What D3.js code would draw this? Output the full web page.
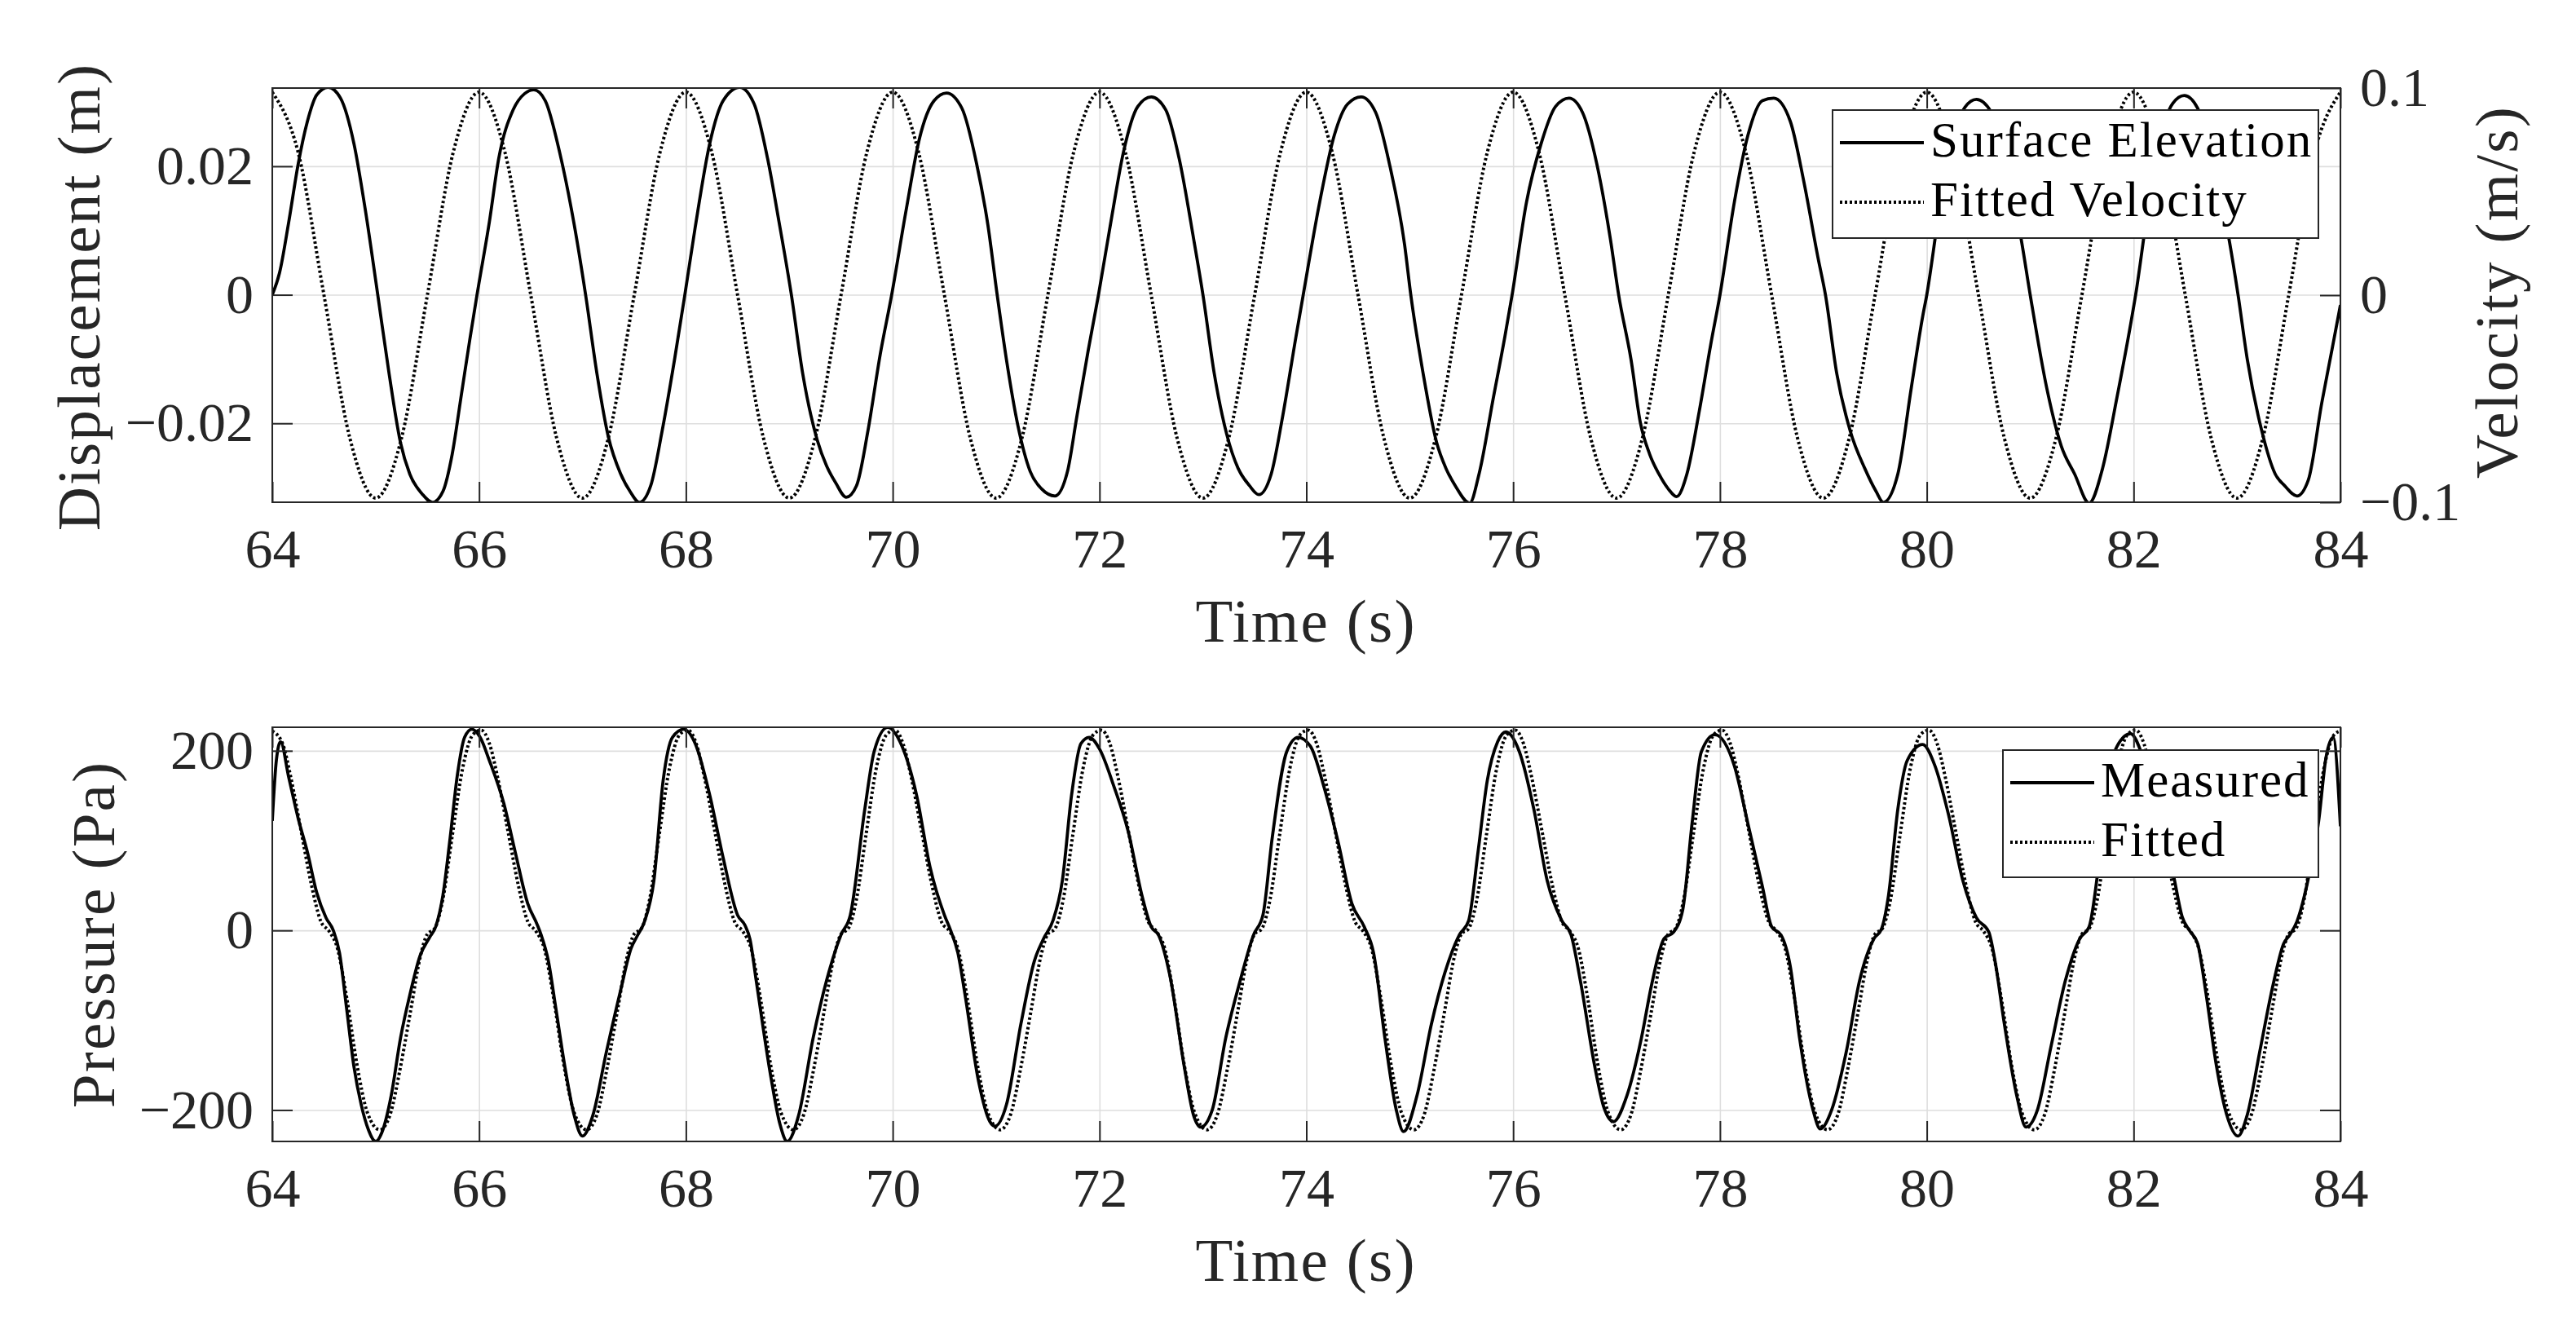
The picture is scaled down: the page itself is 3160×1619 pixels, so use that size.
<!DOCTYPE html>
<html>
<head>
<meta charset="utf-8">
<script src="https://cdn.jsdelivr.net/npm/d3@7"></script>
<style>
  body { margin: 0; background: #fff; }
</style>
</head>
<body>
<svg id="chart" width="3160" height="1619"></svg>
<script>
// tick values
const timeTicks = [64, 66, 68, 70, 72, 74, 76, 78, 80, 82, 84];
const dispTicks = [-0.02, 0, 0.02];
const velTicks = [-0.1, 0, 0.1];
const pressTicks = [-200, 0, 200];

// surface elevation (m), [time s, value]
const elevation = [
  [64.00,0.0000],[64.07,0.0034],[64.16,0.0114],[64.25,0.0203],[64.34,0.0270],[64.43,0.0311],[64.54,0.0323],
  [64.66,0.0306],[64.79,0.0235],[64.90,0.0132],[65.02,0.0000],[65.13,-0.0123],[65.24,-0.0230],[65.33,-0.0279],
  [65.45,-0.0310],[65.55,-0.0323],[65.65,-0.0306],[65.74,-0.0248],[65.83,-0.0154],[65.91,-0.0070],[65.98,0.0000],
  [66.10,0.0114],[66.19,0.0212],[66.33,0.0288],[66.44,0.0313],[66.53,0.0319],[66.64,0.0302],[66.78,0.0221],
  [66.92,0.0109],[67.03,0.0000],[67.14,-0.0123],[67.25,-0.0221],[67.37,-0.0279],[67.46,-0.0306],[67.55,-0.0323],
  [67.66,-0.0297],[67.77,-0.0212],[67.89,-0.0101],[67.99,0.0000],[68.09,0.0105],[68.23,0.0235],[68.36,0.0302],
  [68.52,0.0323],[68.66,0.0297],[68.79,0.0212],[68.90,0.0114],[69.02,0.0000],[69.13,-0.0123],[69.27,-0.0226],
  [69.36,-0.0266],[69.45,-0.0293],[69.55,-0.0315],[69.65,-0.0297],[69.76,-0.0212],[69.88,-0.0092],[69.99,0.0000],
  [70.13,0.0132],[70.26,0.0244],[70.40,0.0302],[70.52,0.0314],[70.67,0.0290],[70.81,0.0205],[70.92,0.0109],
  [71.01,0.0000],[71.10,-0.0101],[71.21,-0.0203],[71.33,-0.0275],[71.44,-0.0302],[71.57,-0.0313],[71.69,-0.0275],
  [71.78,-0.0190],[71.89,-0.0087],[71.99,0.0000],[72.12,0.0123],[72.23,0.0221],[72.37,0.0293],[72.50,0.0308],
  [72.64,0.0288],[72.77,0.0212],[72.91,0.0087],[73.00,0.0000],[73.11,-0.0123],[73.23,-0.0217],[73.34,-0.0270],
  [73.45,-0.0297],[73.54,-0.0311],[73.66,-0.0279],[73.77,-0.0190],[73.90,-0.0065],[73.97,0.0000],[74.13,0.0145],
  [74.27,0.0248],[74.40,0.0297],[74.53,0.0308],[74.67,0.0284],[74.81,0.0199],[74.95,0.0078],[75.01,0.0000],
  [75.13,-0.0123],[75.26,-0.0230],[75.35,-0.0270],[75.44,-0.0297],[75.58,-0.0324],[75.67,-0.0279],[75.81,-0.0159],
  [75.92,-0.0065],[75.99,0.0000],[76.13,0.0145],[76.27,0.0235],[76.41,0.0293],[76.54,0.0306],[76.67,0.0284],
  [76.81,0.0203],[76.94,0.0087],[77.02,0.0000],[77.14,-0.0101],[77.23,-0.0199],[77.32,-0.0248],[77.41,-0.0279],
  [77.50,-0.0302],[77.58,-0.0314],[77.68,-0.0279],[77.80,-0.0181],[77.91,-0.0078],[78.00,0.0000],[78.14,0.0145],
  [78.27,0.0248],[78.41,0.0302],[78.52,0.0306],[78.68,0.0270],[78.81,0.0177],[78.95,0.0056],[79.02,0.0000],
  [79.13,-0.0123],[79.26,-0.0212],[79.40,-0.0270],[79.51,-0.0306],[79.58,-0.0323],[79.72,-0.0279],[79.85,-0.0145],
  [79.96,-0.0034],[80.00,0.0000],[80.12,0.0130],[80.25,0.0240],[80.37,0.0292],[80.48,0.0304],[80.62,0.0285],
  [80.76,0.0200],[80.91,0.0089],[81.00,0.0000],[81.16,-0.0145],[81.30,-0.0235],[81.43,-0.0279],[81.57,-0.0324],
  [81.70,-0.0270],[81.84,-0.0159],[81.97,-0.0047],[82.02,0.0000],[82.14,0.0135],[82.26,0.0245],[82.38,0.0298],
  [82.49,0.0310],[82.62,0.0290],[82.76,0.0205],[82.92,0.0089],[83.01,0.0000],[83.10,-0.0101],[83.24,-0.0212],
  [83.37,-0.0279],[83.46,-0.0297],[83.58,-0.0313],[83.69,-0.0288],[83.82,-0.0168],[83.92,-0.0084],[84.00,-0.0016]
];

// fitted velocity (m/s)
const velocity = [
  [64.00,0.098],[64.25,0.069],[64.50,0],[64.75,-0.069],[65.00,-0.098],[65.25,-0.069],[65.50,0],[65.75,0.069],
  [66.00,0.098],[66.25,0.069],[66.50,0],[66.75,-0.069],[67.00,-0.098],[67.25,-0.069],[67.50,0],[67.75,0.069],
  [68.00,0.098],[68.25,0.069],[68.50,0],[68.75,-0.069],[69.00,-0.098],[69.25,-0.069],[69.50,0],[69.75,0.069],
  [70.00,0.098],[70.25,0.069],[70.50,0],[70.75,-0.069],[71.00,-0.098],[71.25,-0.069],[71.50,0],[71.75,0.069],
  [72.00,0.098],[72.25,0.069],[72.50,0],[72.75,-0.069],[73.00,-0.098],[73.25,-0.069],[73.50,0],[73.75,0.069],
  [74.00,0.098],[74.25,0.069],[74.50,0],[74.75,-0.069],[75.00,-0.098],[75.25,-0.069],[75.50,0],[75.75,0.069],
  [76.00,0.098],[76.25,0.069],[76.50,0],[76.75,-0.069],[77.00,-0.098],[77.25,-0.069],[77.50,0],[77.75,0.069],
  [78.00,0.098],[78.25,0.069],[78.50,0],[78.75,-0.069],[79.00,-0.098],[79.25,-0.069],[79.50,0],[79.75,0.069],
  [80.00,0.098],[80.25,0.069],[80.50,0],[80.75,-0.069],[81.00,-0.098],[81.25,-0.069],[81.50,0],[81.75,0.069],
  [82.00,0.098],[82.25,0.069],[82.50,0],[82.75,-0.069],[83.00,-0.098],[83.25,-0.069],[83.50,0],[83.75,0.069],
  [84.00,0.098]
];

// measured pressure (Pa)
const pressureMeasured = [
  [64.00,122],[64.04,190],[64.08,210],[64.16,170],[64.25,125],[64.34,87],[64.43,42],[64.52,14],[64.59,0],
  [64.65,-25],[64.72,-88],[64.79,-152],[64.86,-194],[64.93,-222],[65.00,-235],[65.06,-225],[65.15,-184],
  [65.24,-120],[65.33,-72],[65.43,-28],[65.52,-8],[65.58,4],[65.65,39],[65.72,103],[65.79,173],[65.86,215],
  [65.93,224],[66.01,215],[66.10,189],[66.24,141],[66.35,87],[66.47,30],[66.56,7],[66.60,-5],[66.67,-34],
  [66.74,-85],[66.83,-152],[66.92,-206],[67.00,-229],[67.10,-206],[67.23,-136],[67.37,-66],[67.47,-20],
  [67.53,-6],[67.60,10],[67.69,55],[67.78,167],[67.87,215],[67.98,224],[68.09,208],[68.23,151],[68.36,81],
  [68.50,17],[68.57,6],[68.62,-10],[68.68,-56],[68.82,-162],[68.91,-216],[68.98,-235],[69.09,-206],[69.23,-120],
  [69.36,-56],[69.50,-5],[69.59,17],[69.73,135],[69.82,199],[69.95,226],[70.09,205],[70.23,151],[70.36,71],
  [70.50,17],[70.56,0],[70.63,-25],[70.70,-72],[70.83,-168],[70.94,-213],[70.99,-218],[71.10,-194],[71.24,-104],
  [71.37,-34],[71.46,-9],[71.55,11],[71.64,55],[71.73,151],[71.82,208],[71.90,215],[72.00,202],[72.14,160],
  [72.28,109],[72.41,39],[72.50,4],[72.57,-5],[72.68,-50],[72.82,-152],[72.91,-206],[72.98,-219],[73.09,-200],
  [73.22,-120],[73.36,-56],[73.49,-5],[73.58,17],[73.67,103],[73.81,199],[73.92,215],[74.04,205],[74.17,160],
  [74.31,97],[74.44,30],[74.56,4],[74.65,-25],[74.76,-120],[74.87,-200],[74.94,-224],[75.07,-184],[75.21,-104],
  [75.34,-47],[75.48,-5],[75.57,11],[75.66,87],[75.75,167],[75.85,210],[75.93,221],[76.06,199],[76.20,135],
  [76.33,55],[76.47,11],[76.56,-5],[76.65,-56],[76.79,-152],[76.88,-198],[76.97,-213],[77.10,-184],[77.24,-120],
  [77.34,-60],[77.46,-9],[77.55,-2],[77.64,23],[77.73,119],[77.82,199],[77.95,218],[78.14,183],[78.27,119],
  [78.41,49],[78.50,4],[78.59,-5],[78.68,-40],[78.77,-120],[78.90,-200],[78.97,-221],[79.08,-200],[79.22,-136],
  [79.35,-56],[79.49,-9],[79.56,1],[79.63,39],[79.72,135],[79.81,189],[79.96,207],[80.08,183],[80.21,129],
  [80.35,55],[80.48,14],[80.60,-2],[80.66,-34],[80.75,-104],[80.87,-184],[80.96,-219],[81.07,-200],[81.20,-130],
  [81.34,-56],[81.48,-9],[81.57,4],[81.66,71],[81.75,167],[81.84,205],[81.97,219],[82.10,190],[82.24,135],
  [82.39,59],[82.47,15],[82.54,0],[82.62,-15],[82.70,-70],[82.80,-150],[82.90,-205],[83.01,-229],[83.10,-205],
  [83.22,-135],[83.35,-60],[83.45,-15],[83.51,-5],[83.58,10],[83.69,58],[83.79,122],[83.86,192],[83.93,215],
  [84.00,116]
];

// fitted pressure (Pa)
const pressureFitted = [
  [64.00,222],[64.10,208],[64.18,170],[64.28,110],[64.38,50],[64.47,10],[64.55,-1],[64.63,-20],[64.72,-75],
  [64.82,-150],[64.92,-203],[65.04,-222],[65.14,-205],[65.24,-152],[65.34,-88],[65.43,-30],[65.50,-4],[65.57,2],
  [65.65,35],[65.74,105],[65.84,180],[65.94,218],
  [66.02,223],[66.10,208],[66.18,170],[66.28,110],[66.38,50],[66.47,10],[66.55,-1],[66.63,-20],[66.72,-75],
  [66.82,-150],[66.92,-203],[67.04,-222],[67.14,-205],[67.24,-152],[67.34,-88],[67.43,-30],[67.50,-4],[67.57,2],
  [67.65,35],[67.74,105],[67.84,180],[67.94,218],
  [68.02,223],[68.10,208],[68.18,170],[68.28,110],[68.38,50],[68.47,10],[68.55,-1],[68.63,-20],[68.72,-75],
  [68.82,-150],[68.92,-203],[69.04,-222],[69.14,-205],[69.24,-152],[69.34,-88],[69.43,-30],[69.50,-4],[69.57,2],
  [69.65,35],[69.74,105],[69.84,180],[69.94,218],
  [70.02,223],[70.10,208],[70.18,170],[70.28,110],[70.38,50],[70.47,10],[70.55,-1],[70.63,-20],[70.72,-75],
  [70.82,-150],[70.92,-203],[71.04,-222],[71.14,-205],[71.24,-152],[71.34,-88],[71.43,-30],[71.50,-4],[71.57,2],
  [71.65,35],[71.74,105],[71.84,180],[71.94,218],
  [72.02,223],[72.10,208],[72.18,170],[72.28,110],[72.38,50],[72.47,10],[72.55,-1],[72.63,-20],[72.72,-75],
  [72.82,-150],[72.92,-203],[73.04,-222],[73.14,-205],[73.24,-152],[73.34,-88],[73.43,-30],[73.50,-4],[73.57,2],
  [73.65,35],[73.74,105],[73.84,180],[73.94,218],
  [74.02,223],[74.10,208],[74.18,170],[74.28,110],[74.38,50],[74.47,10],[74.55,-1],[74.63,-20],[74.72,-75],
  [74.82,-150],[74.92,-203],[75.04,-222],[75.14,-205],[75.24,-152],[75.34,-88],[75.43,-30],[75.50,-4],[75.57,2],
  [75.65,35],[75.74,105],[75.84,180],[75.94,218],
  [76.02,223],[76.10,208],[76.18,170],[76.28,110],[76.38,50],[76.47,10],[76.55,-1],[76.63,-20],[76.72,-75],
  [76.82,-150],[76.92,-203],[77.04,-222],[77.14,-205],[77.24,-152],[77.34,-88],[77.43,-30],[77.50,-4],[77.57,2],
  [77.65,35],[77.74,105],[77.84,180],[77.94,218],
  [78.02,223],[78.10,208],[78.18,170],[78.28,110],[78.38,50],[78.47,10],[78.55,-1],[78.63,-20],[78.72,-75],
  [78.82,-150],[78.92,-203],[79.04,-222],[79.14,-205],[79.24,-152],[79.34,-88],[79.43,-30],[79.50,-4],[79.57,2],
  [79.65,35],[79.74,105],[79.84,180],[79.94,218],
  [80.02,223],[80.10,208],[80.18,170],[80.28,110],[80.38,50],[80.47,10],[80.55,-1],[80.63,-20],[80.72,-75],
  [80.82,-150],[80.92,-203],[81.04,-222],[81.14,-205],[81.24,-152],[81.34,-88],[81.43,-30],[81.50,-4],[81.57,2],
  [81.65,35],[81.74,105],[81.84,180],[81.94,218],
  [82.02,223],[82.10,208],[82.18,170],[82.28,110],[82.38,50],[82.47,10],[82.55,-1],[82.63,-20],[82.72,-75],
  [82.82,-150],[82.92,-203],[83.04,-222],[83.14,-205],[83.24,-152],[83.34,-88],[83.43,-30],[83.50,-4],[83.57,2],
  [83.65,35],[83.74,105],[83.84,180],[83.94,218],
  [84.00,222]
];

const FONT = '"Liberation Serif", "Times New Roman", serif';
const INK = "#262626";
const DOTS = "3,3";
const left = 334, right = 2871;

const svg = d3.select("#chart");

const x = d3.scaleLinear().domain([64, 84]).range([left, right]);
const yDisp = d3.scaleLinear().domain([-0.03228, 0.03217]).range([616, 108]);
const yVel = d3.scaleLinear().domain([-0.1, 0.1]).range([616, 108]);
const yPress = d3.scaleLinear().domain([-235, 226.2]).range([1400, 892]);

function styleTicks(g) {
  g.select(".domain").remove();
  g.selectAll(".tick line").attr("stroke", INK).attr("stroke-width", 2);
  g.selectAll(".tick text")
    .style("font-family", FONT)
    .style("font-size", "68px")
    .attr("fill", INK);
}

function drawGrid(y, ticks, top, bottom) {
  const grid = svg.append("g");
  grid.append("g")
    .attr("transform", `translate(0,${bottom})`)
    .call(d3.axisBottom(x).tickValues(timeTicks).tickSize(-(bottom - top)).tickFormat(""));
  grid.append("g")
    .attr("transform", `translate(${left},0)`)
    .call(d3.axisLeft(y).tickValues(ticks).tickSize(-(right - left)).tickFormat(""));
  grid.selectAll(".domain").remove();
  grid.selectAll(".tick line").attr("stroke", "#dedede").attr("stroke-width", 1.6);
}

function drawSeries(data, y, dotted, clipId) {
  const line = d3.line()
    .x(d => x(d[0]))
    .y(d => y(d[1]))
    .curve(d3.curveMonotoneX);
  svg.append("path")
    .datum(data)
    .attr("clip-path", `url(#${clipId})`)
    .attr("d", line)
    .attr("fill", "none")
    .attr("stroke", "#000")
    .attr("stroke-width", dotted ? 4 : 3.8)
    .attr("stroke-dasharray", dotted ? DOTS : null);
}

function drawFrame(top, bottom) {
  svg.append("rect")
    .attr("x", left).attr("y", top)
    .attr("width", right - left).attr("height", bottom - top)
    .attr("fill", "none").attr("stroke", INK).attr("stroke-width", 2);
  svg.append("g")
    .attr("transform", `translate(0,${bottom})`)
    .call(d3.axisBottom(x).tickValues(timeTicks).tickSize(-25).tickPadding(32).tickFormat(d3.format("d")))
    .call(styleTicks);
  svg.append("g")
    .attr("transform", `translate(0,${top})`)
    .call(d3.axisTop(x).tickValues(timeTicks).tickSize(-25).tickFormat(""))
    .call(styleTicks);
}

function addClip(id, top, bottom) {
  svg.append("clipPath").attr("id", id)
    .append("rect").attr("x", left).attr("y", top)
    .attr("width", right - left).attr("height", bottom - top);
}

function legend(x0, y0, w, h, entries) {
  const g = svg.append("g");
  g.append("rect").attr("x", x0).attr("y", y0).attr("width", w).attr("height", h)
    .attr("fill", "#fff").attr("stroke", INK).attr("stroke-width", 2);
  entries.forEach((e, i) => {
    const base = y0 + 57 + i * 73;
    g.append("line")
      .attr("x1", x0 + 9).attr("x2", x0 + 112)
      .attr("y1", base - 17).attr("y2", base - 17)
      .attr("stroke", "#000").attr("stroke-width", e.dotted ? 4 : 3.8)
      .attr("stroke-dasharray", e.dotted ? DOTS : null);
    g.append("text")
      .attr("x", x0 + 120).attr("y", base)
      .style("font-family", FONT).style("font-size", "61px").style("letter-spacing", "2px")
      .attr("fill", "#000")
      .text(e.label);
  });
}

function label(text, tx, ty, rotate) {
  svg.append("text")
    .attr("transform", `translate(${tx},${ty})` + (rotate ? " rotate(-90)" : ""))
    .attr("text-anchor", "middle")
    .style("font-family", FONT).style("font-size", "75px").style("letter-spacing", "2.2px")
    .attr("fill", INK)
    .text(text);
}

const fmtDisp = d => d === 0 ? "0" : d3.format(".2f")(d);
const fmtVel = d => d === 0 ? "0" : d3.format(".1f")(d);

// ---- top panel ----
addClip("clipTop", 108, 616);
drawGrid(yDisp, dispTicks, 108, 616);
drawSeries(elevation, yDisp, false, "clipTop");
drawSeries(velocity, yVel, true, "clipTop");
drawFrame(108, 616);
svg.append("g")
  .attr("transform", `translate(${left},0)`)
  .call(d3.axisLeft(yDisp).tickValues(dispTicks).tickSize(-25).tickPadding(23).tickFormat(fmtDisp))
  .call(styleTicks);
svg.append("g")
  .attr("transform", `translate(${right},0)`)
  .call(d3.axisRight(yVel).tickValues(velTicks).tickSize(-25).tickPadding(24).tickFormat(fmtVel))
  .call(styleTicks);
legend(2248, 135, 596, 157, [
  { label: "Surface Elevation", dotted: false },
  { label: "Fitted Velocity", dotted: true }
]);
label("Time (s)", 1602, 787, false);
label("Displacement (m)", 122, 364, true);
label("Velocity (m/s)", 3088, 358, true);

// ---- bottom panel ----
addClip("clipBottom", 892, 1400);
drawGrid(yPress, pressTicks, 892, 1400);
drawSeries(pressureMeasured, yPress, false, "clipBottom");
drawSeries(pressureFitted, yPress, true, "clipBottom");
drawFrame(892, 1400);
svg.append("g")
  .attr("transform", `translate(${left},0)`)
  .call(d3.axisLeft(yPress).tickValues(pressTicks).tickSize(-25).tickPadding(23).tickFormat(d3.format("d")))
  .call(styleTicks);
svg.append("g")
  .attr("transform", `translate(${right},0)`)
  .call(d3.axisRight(yPress).tickValues(pressTicks).tickSize(-25).tickFormat(""))
  .call(styleTicks);
legend(2457, 920, 387, 156, [
  { label: "Measured", dotted: false },
  { label: "Fitted", dotted: true }
]);
label("Time (s)", 1602, 1571, false);
label("Pressure (Pa)", 140, 1146, true);
</script>
</body>
</html>
